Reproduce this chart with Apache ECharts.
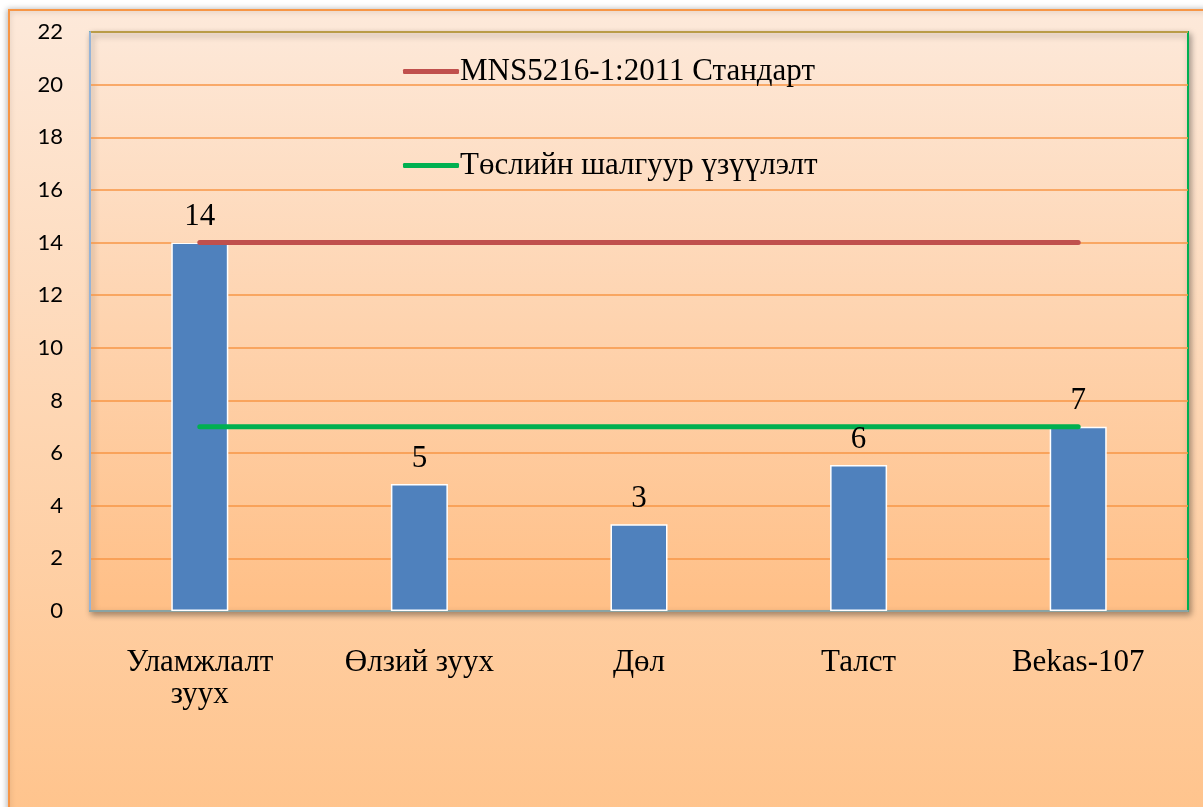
<!DOCTYPE html>
<html>
<head>
<meta charset="utf-8">
<script src="https://cdn.jsdelivr.net/npm/echarts@6/dist/echarts.min.js"></script>
<style>
  html, body { margin: 0; padding: 0; background: #fff; }
  #main { width: 1203px; height: 807px; }
</style>
</head>
<body>
<div id="main"></div>
<script>
// chart data
const categories = ['Уламжлалт\nзуух', 'Өлзий зуух', 'Дөл', 'Талст', 'Bekas-107']
const measured = [14, 4.83, 3.3, 5.55, 7]
const standardName = 'MNS5216-1:2011 Стандарт'
const standardValues = [14, 14, 14, 14, 14]
const projectName = 'Төслийн шалгуур үзүүлэлт'
const projectValues = [7, 7, 7, 7, 7]
const yTicks = { min: 0, max: 22, interval: 2 }

const serif = '"Liberation Serif", "DejaVu Serif", serif'
const sans = 'Lato, "Open Sans", sans-serif'

let myChart = echarts.init(document.getElementById('main'))

const option = {
    animation: false,
    backgroundColor: 'transparent',
    graphic: {
        elements: [
            {
                type: 'rect',
                z: -100,
                silent: true,
                shape: { x: 9, y: 10, width: 1210, height: 820 },
                style: {
                    fill: new echarts.graphic.LinearGradient(0, 0, 0, 1, [
                        { offset: 0, color: '#fde9da' },
                        { offset: 1, color: '#ffc38b' }
                    ]),
                    stroke: '#f79646',
                    lineWidth: 2,
                    shadowBlur: 6,
                    shadowColor: 'rgba(0,0,0,0.25)',
                    shadowOffsetX: -1
                }
            }
        ]
    },
    grid: {
        left: 90,
        right: 15,
        top: 32,
        bottom: 196,
        show: true,
        borderColor: '#00b050',
        borderWidth: 2,
        backgroundColor: new echarts.graphic.LinearGradient(0, 0, 0, 1, [
            { offset: 0, color: '#fde8d8' },
            { offset: 1, color: '#ffbf86' }
        ]),
        shadowBlur: 6,
        shadowColor: 'rgba(0,0,0,0.35)',
        shadowOffsetX: 2,
        shadowOffsetY: 3
    },
    legend: {
        data: [
            { name: standardName, icon: 'roundRect' },
            { name: projectName, icon: 'roundRect' }
        ],
        orient: 'vertical',
        left: 398,
        top: 51,
        itemWidth: 56,
        itemHeight: 5,
        itemGap: 63,
        textStyle: {
            fontFamily: serif,
            fontSize: 31,
            color: '#000',
            padding: [0, 0, 0, -4]
        }
    },
    xAxis: {
        type: 'category',
        data: categories,
        axisTick: { show: false },
        axisLine: { lineStyle: { color: '#8aa3a3', width: 2 } },
        axisLabel: {
            margin: 36,
            fontFamily: serif,
            fontSize: 31,
            lineHeight: 32,
            color: '#000'
        }
    },
    yAxis: {
        type: 'value',
        min: yTicks.min,
        max: yTicks.max,
        interval: yTicks.interval,
        axisLine: { show: true, lineStyle: { color: '#95b3d7', width: 2 } },
        axisTick: { show: false },
        splitLine: { lineStyle: { color: '#f79646', width: 1.5 } },
        axisLabel: {
            margin: 27,
            fontFamily: sans,
            fontSize: 22,
            color: '#000'
        }
    },
    series: [
        {
            name: 'measured',
            type: 'bar',
            data: measured,
            barWidth: 57,
            itemStyle: {
                color: '#4f81bd',
                borderColor: '#fff',
                borderWidth: 1.5
            },
            z: 2
        },
        {
            name: standardName,
            type: 'line',
            data: standardValues,
            symbol: 'none',
            lineStyle: { color: '#c0504d', width: 5, cap: 'round' },
            itemStyle: { color: '#c0504d' },
            z: 5
        },
        {
            name: projectName,
            type: 'line',
            data: projectValues,
            symbol: 'none',
            lineStyle: { color: '#00b050', width: 5, cap: 'round' },
            itemStyle: { color: '#00b050' },
            z: 5
        },
        {
            // value labels drawn above the reference lines
            name: 'labels',
            type: 'scatter',
            data: measured,
            symbolSize: 0,
            silent: true,
            itemStyle: { opacity: 1, color: 'transparent' },
            label: {
                show: true,
                position: 'top',
                distance: 10,
                fontFamily: serif,
                fontSize: 31,
                color: '#000',
                opacity: 1,
                formatter: p => Math.round(p.value)
            },
            z: 10
        }
    ]
}
myChart.setOption(option)
</script>
</body>
</html>
